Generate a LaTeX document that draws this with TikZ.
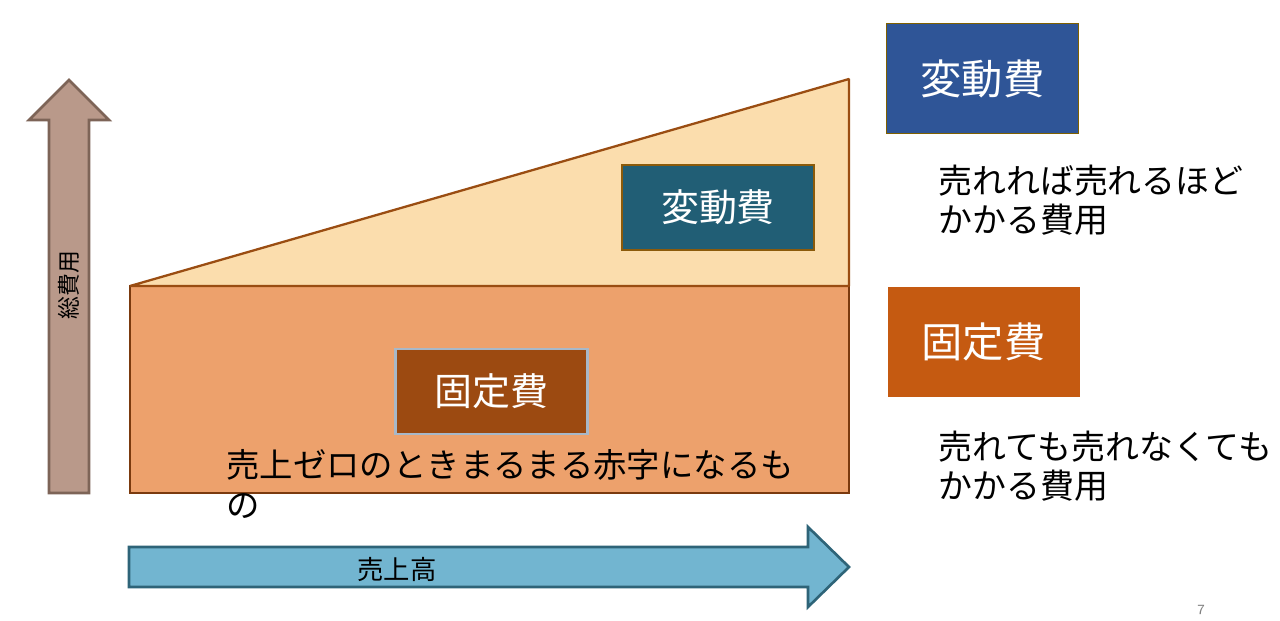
\documentclass[tikz,border=0pt]{standalone}
\usepackage{fontspec}
\newfontfamily\jp{Noto Sans CJK JP}
\definecolor{upfill}{HTML}{B9998A}
\definecolor{updraw}{HTML}{7D6457}
\definecolor{rtfill}{HTML}{72B5D0}
\definecolor{rtdraw}{HTML}{2E6478}
\definecolor{fixfill}{HTML}{EDA16C}
\definecolor{fixdraw}{HTML}{7B3A0E}
\definecolor{varfill}{HTML}{FBDDAD}
\definecolor{vardraw}{HTML}{9A4D12}
\definecolor{tealbox}{HTML}{215E75}
\definecolor{tealline}{HTML}{8B5A0A}
\definecolor{brownbox}{HTML}{9C4A11}
\definecolor{brownline}{HTML}{A8B8C8}
\definecolor{bigblue}{HTML}{2F5597}
\definecolor{bigblueline}{HTML}{7F6000}
\definecolor{bigorange}{HTML}{C55A11}
\tikzset{
  fs/.style={font=\jp\fontsize{#1}{#1*1.2}\selectfont},
  innerbox/.style={draw, line width=1.2pt, minimum width=192*0.02cm, minimum height=85*0.02cm, text=white, fs=21.6pt, inner sep=0pt},
  bigbox/.style={minimum width=192*0.02cm, minimum height=110*0.02cm, text=white, fs=23.5pt, inner sep=0pt},
  bodytext/.style={fs=19.3pt, align=left, anchor=west, inner sep=0pt}
}
\begin{document}
\begin{tikzpicture}[x=0.02cm, y=-0.02cm]
\useasboundingbox (0,0) rectangle (1280,621);
% vertical arrow (total cost)
\draw[fill=upfill, draw=updraw, line width=1.5pt, line join=miter]
  (49,493) -- (49,120) -- (29,120) -- (69,80) -- (109,120) -- (89,120) -- (89,493) -- cycle;
\node[fs=13pt, rotate=90] (total) at (69,285) {総費用};
% horizontal arrow (sales)
\draw[fill=rtfill, draw=rtdraw, line width=1.5pt, line join=miter]
  (129,547) -- (808,547) -- (808,527) -- (849,567) -- (808,607) -- (808,587) -- (129,587) -- cycle;
\node[fs=15pt] (sales) at (397,569) {売上高};
% fixed cost rectangle
\draw[fill=fixfill, draw=fixdraw, line width=1.3pt] (130,286) rectangle (849,493);
% variable cost triangle
\draw[fill=varfill, draw=vardraw, line width=1.3pt, line join=bevel] (130,286) -- (849,79) -- (849,286) -- cycle;
% inner boxes
\node[innerbox, fill=tealbox, draw=tealline] (varin) at (718,207.5) {変動費};
\node[innerbox, fill=brownbox, draw=brownline] (fixin) at (491.5,391.5) {固定費};
\node[fs=19pt, anchor=west, align=left, inner sep=0pt] (zero) at (226,484)
  {売上ゼロのときまるまる赤字になるも\\[3.6pt]の};
% right side boxes
\node[bigbox, fill=bigblue, draw=bigblueline, line width=0.8pt] (varbig) at (982.5,78.5) {変動費};
\node[bigbox, fill=bigorange] (fixbig) at (983.5,342) {固定費};
\node[bodytext] (vartext) at (938,200) {売れれば売れるほど\\[3pt]かかる費用};
\node[bodytext] (fixtext) at (938,466) {売れても売れなくても\\[3pt]かかる費用};
% page number
\node[font=\sffamily\fontsize{8pt}{9pt}\selectfont, text=gray] (page) at (1201,610) {7};
\end{tikzpicture}
\end{document}
